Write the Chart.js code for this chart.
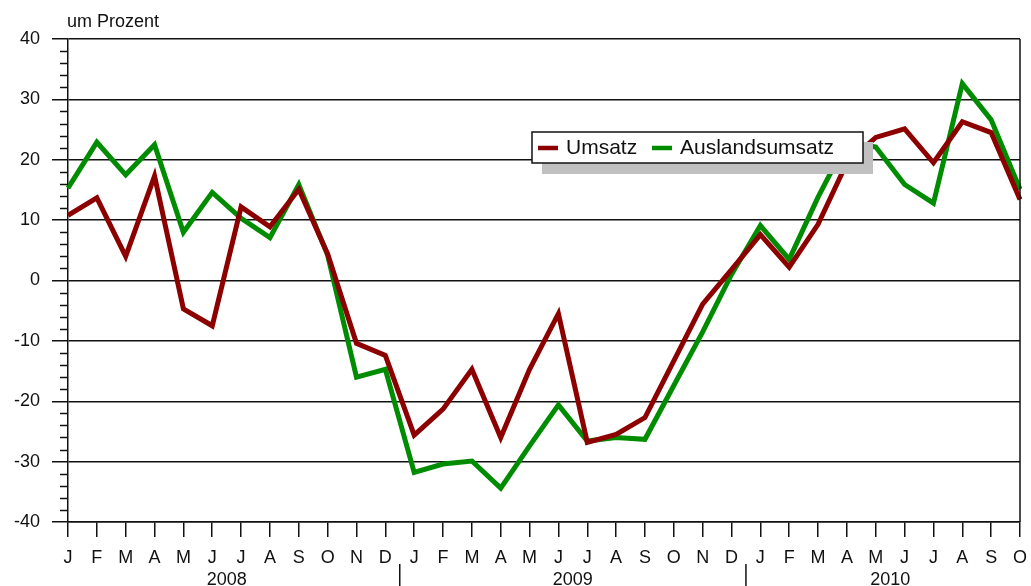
<!DOCTYPE html>
<html>
<head>
<meta charset="utf-8">
<script src="https://cdn.jsdelivr.net/npm/chart.js@4.4.1/dist/chart.umd.min.js"></script>
<style>
  html, body { margin: 0; padding: 0; background: #fff; }
  #wrap { width: 1031px; height: 586px; position: relative; }
</style>
</head>
<body>
<div id="wrap"><canvas id="c"></canvas></div>
<script>
// ---- data ----
const months2008 = ['J','F','M','A','M','J','J','A','S','O','N','D'];
const months2009 = ['J','F','M','A','M','J','J','A','S','O','N','D'];
const months2010 = ['J','F','M','A','M','J','J','A','S','O'];
const years = ['2008', '2009', '2010'];
const categories = months2008.concat(months2009, months2010);
const umsatz = [10.8, 13.7, 4.0, 17.3, -4.7, -7.5, 12.2, 8.9, 15.1, 4.4, -10.4, -12.4,
                -25.6, -21.3, -14.7, -26.0, -14.7, -5.5, -26.8, -25.5, -22.7, -13.3, -3.9, 1.8,
                7.6, 2.2, 9.3, 19.5, 23.7, 25.1, 19.5, 26.3, 24.5, 13.4];
const auslandsumsatz = [15.3, 22.9, 17.5, 22.5, 8.0, 14.6, 10.3, 7.1, 15.9, 4.2, -16.0, -14.7,
                -31.8, -30.4, -29.9, -34.4, -27.4, -20.6, -26.6, -26.0, -26.3, -17.4, -8.5, 1.0,
                9.1, 3.5, 13.8, 23.0, 22.1, 15.9, 12.8, 32.6, 26.6, 15.1];
const yTicks = [-40, -30, -20, -10, 0, 10, 20, 30, 40];
const yUnit = 'um Prozent';
const seriesNames = ['Umsatz', 'Auslandsumsatz'];

// ---- styles ----
const FONT = '"Liberation Sans", Arial, Helvetica, sans-serif';
const INK = '#111111';
const RED = '#8c0000';
const GREEN = '#008c00';
const yearMonthCounts = [months2008.length, months2009.length, months2010.length];

const extras = {
  id: 'extras',
  afterDraw(chart) {
    const ctx = chart.ctx;
    const ys = chart.scales.y, xs = chart.scales.x;
    const ca = chart.chartArea;
    ctx.save();
    ctx.strokeStyle = INK;
    ctx.lineWidth = 1.5;
    // minor ticks
    for (let v = ys.min; v <= ys.max; v += 2) {
      if (v % 10 === 0) continue;
      const y = Math.round(ys.getPixelForValue(v)) + 0.5;
      ctx.beginPath(); ctx.moveTo(ca.left - 8, y); ctx.lineTo(ca.left, y); ctx.stroke();
    }
    // right border
    ctx.beginPath(); ctx.moveTo(ca.right, ca.top); ctx.lineTo(ca.right, ca.bottom); ctx.stroke();
    // unit label
    ctx.fillStyle = INK;
    ctx.font = '18px ' + FONT;
    ctx.textAlign = 'left';
    ctx.textBaseline = 'alphabetic';
    ctx.fillText(yUnit, 67, 27);
    // year labels & separators
    let start = 0;
    ctx.font = '18px ' + FONT;
    ctx.textAlign = 'center';
    years.forEach((yr, k) => {
      const end = start + yearMonthCounts[k] - 1;
      const x0 = xs.getPixelForValue(start), x1 = xs.getPixelForValue(end);
      ctx.fillText(yr, (x0 + x1) / 2, 585);
      if (k < years.length - 1) {
        const sx = (x1 + xs.getPixelForValue(end + 1)) / 2;
        ctx.beginPath(); ctx.moveTo(sx, 564); ctx.lineTo(sx, 586); ctx.stroke();
      }
      start = end + 1;
    });
    ctx.restore();
  },
  afterDatasetsDraw(chart) {
    const ctx = chart.ctx;
    ctx.save();
    // legend shadow
    ctx.fillStyle = '#c0c0c0';
    ctx.fillRect(542, 142, 331, 32);
    // legend box
    ctx.fillStyle = '#ffffff';
    ctx.fillRect(532, 132, 331, 31);
    ctx.strokeStyle = INK;
    ctx.lineWidth = 1.5;
    ctx.strokeRect(532, 132, 331, 31);
    const items = [
      { x: 538, tx: 566, color: chart.data.datasets[0].borderColor, label: chart.data.datasets[0].label },
      { x: 652, tx: 680, color: chart.data.datasets[1].borderColor, label: chart.data.datasets[1].label }
    ];
    ctx.font = '21px ' + FONT;
    ctx.textBaseline = 'middle';
    ctx.textAlign = 'left';
    items.forEach(it => {
      ctx.strokeStyle = it.color;
      ctx.lineWidth = 4.5;
      ctx.beginPath(); ctx.moveTo(it.x, 148); ctx.lineTo(it.x + 20, 148); ctx.stroke();
      ctx.fillStyle = INK;
      ctx.fillText(it.label, it.tx, 148);
    });
    ctx.restore();
  }
};

new Chart(document.getElementById('c'), {
  type: 'line',
  data: {
    labels: categories,
    datasets: [
      { label: seriesNames[0], data: umsatz, borderColor: RED, backgroundColor: RED,
        borderWidth: 5, pointRadius: 0, tension: 0, borderJoinStyle: 'miter', fill: false },
      { label: seriesNames[1], data: auslandsumsatz, borderColor: GREEN, backgroundColor: GREEN,
        borderWidth: 5, pointRadius: 0, tension: 0, borderJoinStyle: 'miter', fill: false }
    ]
  },
  options: {
    responsive: true,
    maintainAspectRatio: false,
    animation: false,
    layout: { padding: { top: 39, right: 11, left: 0, bottom: 0 } },
    plugins: { legend: { display: false }, tooltip: { enabled: false } },
    scales: {
      x: {
        type: 'category',
        offset: false,
        grid: { drawOnChartArea: false, drawTicks: true, tickLength: 15, color: INK, lineWidth: 1.5 },
        border: { display: true, color: INK, width: 1.5 },
        ticks: { autoSkip: false, maxRotation: 0, minRotation: 0, padding: 10, color: INK,
                 font: { size: 18, family: FONT } },
        afterFit: s => { s.height = 64; s.paddingRight = 0; s.paddingLeft = 0; }
      },
      y: {
        min: yTicks[0],
        max: yTicks[yTicks.length - 1],
        afterBuildTicks: s => { s.ticks = yTicks.map(v => ({ value: v })); },
        grid: { color: INK, lineWidth: 1.5, tickLength: 16, drawTicks: true },
        border: { display: true, color: INK, width: 1.5 },
        ticks: { padding: 12, color: INK, font: { size: 18, family: FONT } },
        afterFit: s => { s.width = 68; s.paddingTop = 0; s.paddingBottom = 0; }
      }
    }
  },
  plugins: [extras]
});
</script>
</body>
</html>
